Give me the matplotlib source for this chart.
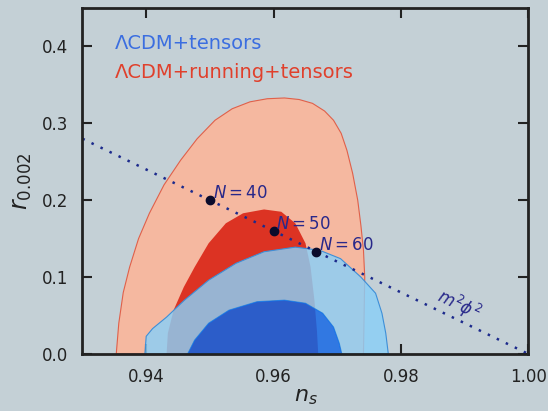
import numpy as np
import matplotlib.pyplot as plt
from matplotlib.path import Path
from matplotlib.patches import PathPatch

# contour outlines (n_s, r_0.002)
run95_ns = [0.9353, 0.9357, 0.9364, 0.9374, 0.9388, 0.9405, 0.9428, 0.9454, 0.9480,
            0.9508, 0.9535, 0.9563, 0.9590, 0.9617, 0.9640, 0.9661, 0.9680, 0.9694,
            0.9706, 0.9715, 0.9724, 0.9732, 0.9737, 0.9741, 0.9743, 0.9742, 0.9741]
run95_r = [0.000, 0.040, 0.080, 0.113, 0.150, 0.183, 0.220, 0.252, 0.280,
           0.304, 0.319, 0.328, 0.332, 0.333, 0.331, 0.326, 0.316, 0.304,
           0.287, 0.265, 0.235, 0.200, 0.167, 0.135, 0.100, 0.050, 0.000]

run68_ns = [0.9432, 0.9434, 0.9443, 0.9459, 0.9476, 0.9498, 0.9525, 0.9552, 0.9585,
            0.9612, 0.9634, 0.9650, 0.9658, 0.9664, 0.9668, 0.9670]
run68_r = [0.000, 0.027, 0.057, 0.087, 0.113, 0.144, 0.170, 0.183, 0.188,
           0.185, 0.170, 0.144, 0.113, 0.070, 0.030, 0.000]

tens95_ns = [0.9398, 0.9400, 0.9410, 0.9432, 0.9460, 0.9498, 0.9541, 0.9585, 0.9634,
             0.9672, 0.9705, 0.9737, 0.9760, 0.9770, 0.9776, 0.9780]
tens95_r = [0.000, 0.023, 0.033, 0.048, 0.070, 0.096, 0.118, 0.133, 0.139,
            0.135, 0.124, 0.100, 0.079, 0.053, 0.027, 0.000]

tens68_ns = [0.9465, 0.9476, 0.9498, 0.9530, 0.9574, 0.9617, 0.9650, 0.9677,
             0.9694, 0.9703, 0.9707]
tens68_r = [0.000, 0.018, 0.040, 0.057, 0.068, 0.070, 0.066, 0.053,
            0.035, 0.014, 0.000]

# m^2 phi^2 prediction and the N = 40, 50, 60 points
line_ns = [0.93, 1.00]
line_r = [0.28, 0.0]
N_values = [40, 50, 60]
N_ns = [0.950, 0.960, 0.9667]
N_r = [0.200, 0.160, 0.133]

xticks = [0.94, 0.96, 0.98, 1.00]
xticklabels = ['0.94', '0.96', '0.98', '1.00']
yticks = [0.0, 0.1, 0.2, 0.3, 0.4]

bg = '#c4d0d6'
navy = '#28288a'

fig = plt.figure(figsize=(5.48, 4.11), dpi=100, facecolor=bg)
ax = fig.add_axes([0.1505, 0.1387, 0.8139, 0.8418])
ax.set_facecolor(bg)

# running + tensors (red)
ax.fill(run95_ns, run95_r, fc='#f5b8a0', ec='#e0604a', lw=0.8, zorder=1)
ax.fill(run68_ns, run68_r, fc='#dc3323', ec='none', zorder=2)

# tensors (blue): outer band as a ring, inner region on its own
outer = np.column_stack([tens95_ns, tens95_r])
inner = np.column_stack([tens68_ns, tens68_r])[::-1]
verts = np.concatenate([outer, outer[:1], inner, inner[:1]])
codes = ([Path.MOVETO] + [Path.LINETO] * (len(outer) - 1) + [Path.CLOSEPOLY]
         + [Path.MOVETO] + [Path.LINETO] * (len(inner) - 1) + [Path.CLOSEPOLY])
ring = PathPatch(Path(verts, codes), fc=(139/255, 207/255, 247/255, 0.83),
                 ec='#3d8fd8', lw=0.8, zorder=3)
ax.add_patch(ring)
ax.fill(tens68_ns, tens68_r, fc=(0.0, 104/255, 244/255, 0.8), ec='none', zorder=4)

ax.plot(line_ns, line_r, color='#1c2a8c', lw=1.8, ls=(0, (1, 3)), zorder=5)
ax.plot(N_ns, N_r, 'o', color='#0b0b2b', ms=6, zorder=6)
for n, x, y in zip(N_values, N_ns, N_r):
    ax.annotate('$N = %d$' % n, (x, y), xytext=(2, 1.5), textcoords='offset points',
                fontsize=12, color=navy, va='baseline', zorder=7)
ax.text(0.989, 0.0636, r'$m^2\phi^2$', rotation=-25.7, rotation_mode='anchor',
        ha='center', va='center', fontsize=12, color=navy, zorder=7)

ax.text(0.073, 0.881, '\u039bCDM+tensors', transform=ax.transAxes,
        color='#3b6ee0', fontsize=14)
ax.text(0.073, 0.798, '\u039bCDM+running+tensors', transform=ax.transAxes,
        color='#e0402c', fontsize=14)

ax.set_xlim(0.93, 1.00)
ax.set_ylim(0.0, 0.45)
ax.set_xticks(xticks)
ax.set_xticklabels(xticklabels)
ax.set_yticks(yticks)
ax.tick_params(direction='in', length=7, width=1.5, top=True, right=True,
               labelsize=12, pad=10, colors='#222222')
for s in ax.spines.values():
    s.set_linewidth(2)
    s.set_color('#222222')
    s.set_zorder(8)

ax.set_xlabel('$n_s$', fontsize=16, labelpad=1, color='#222222')
ax.set_ylabel('$r_{0.002}$', fontsize=17, labelpad=6, color='#222222')

fig.savefig('out.png', dpi=100, facecolor=fig.get_facecolor())
